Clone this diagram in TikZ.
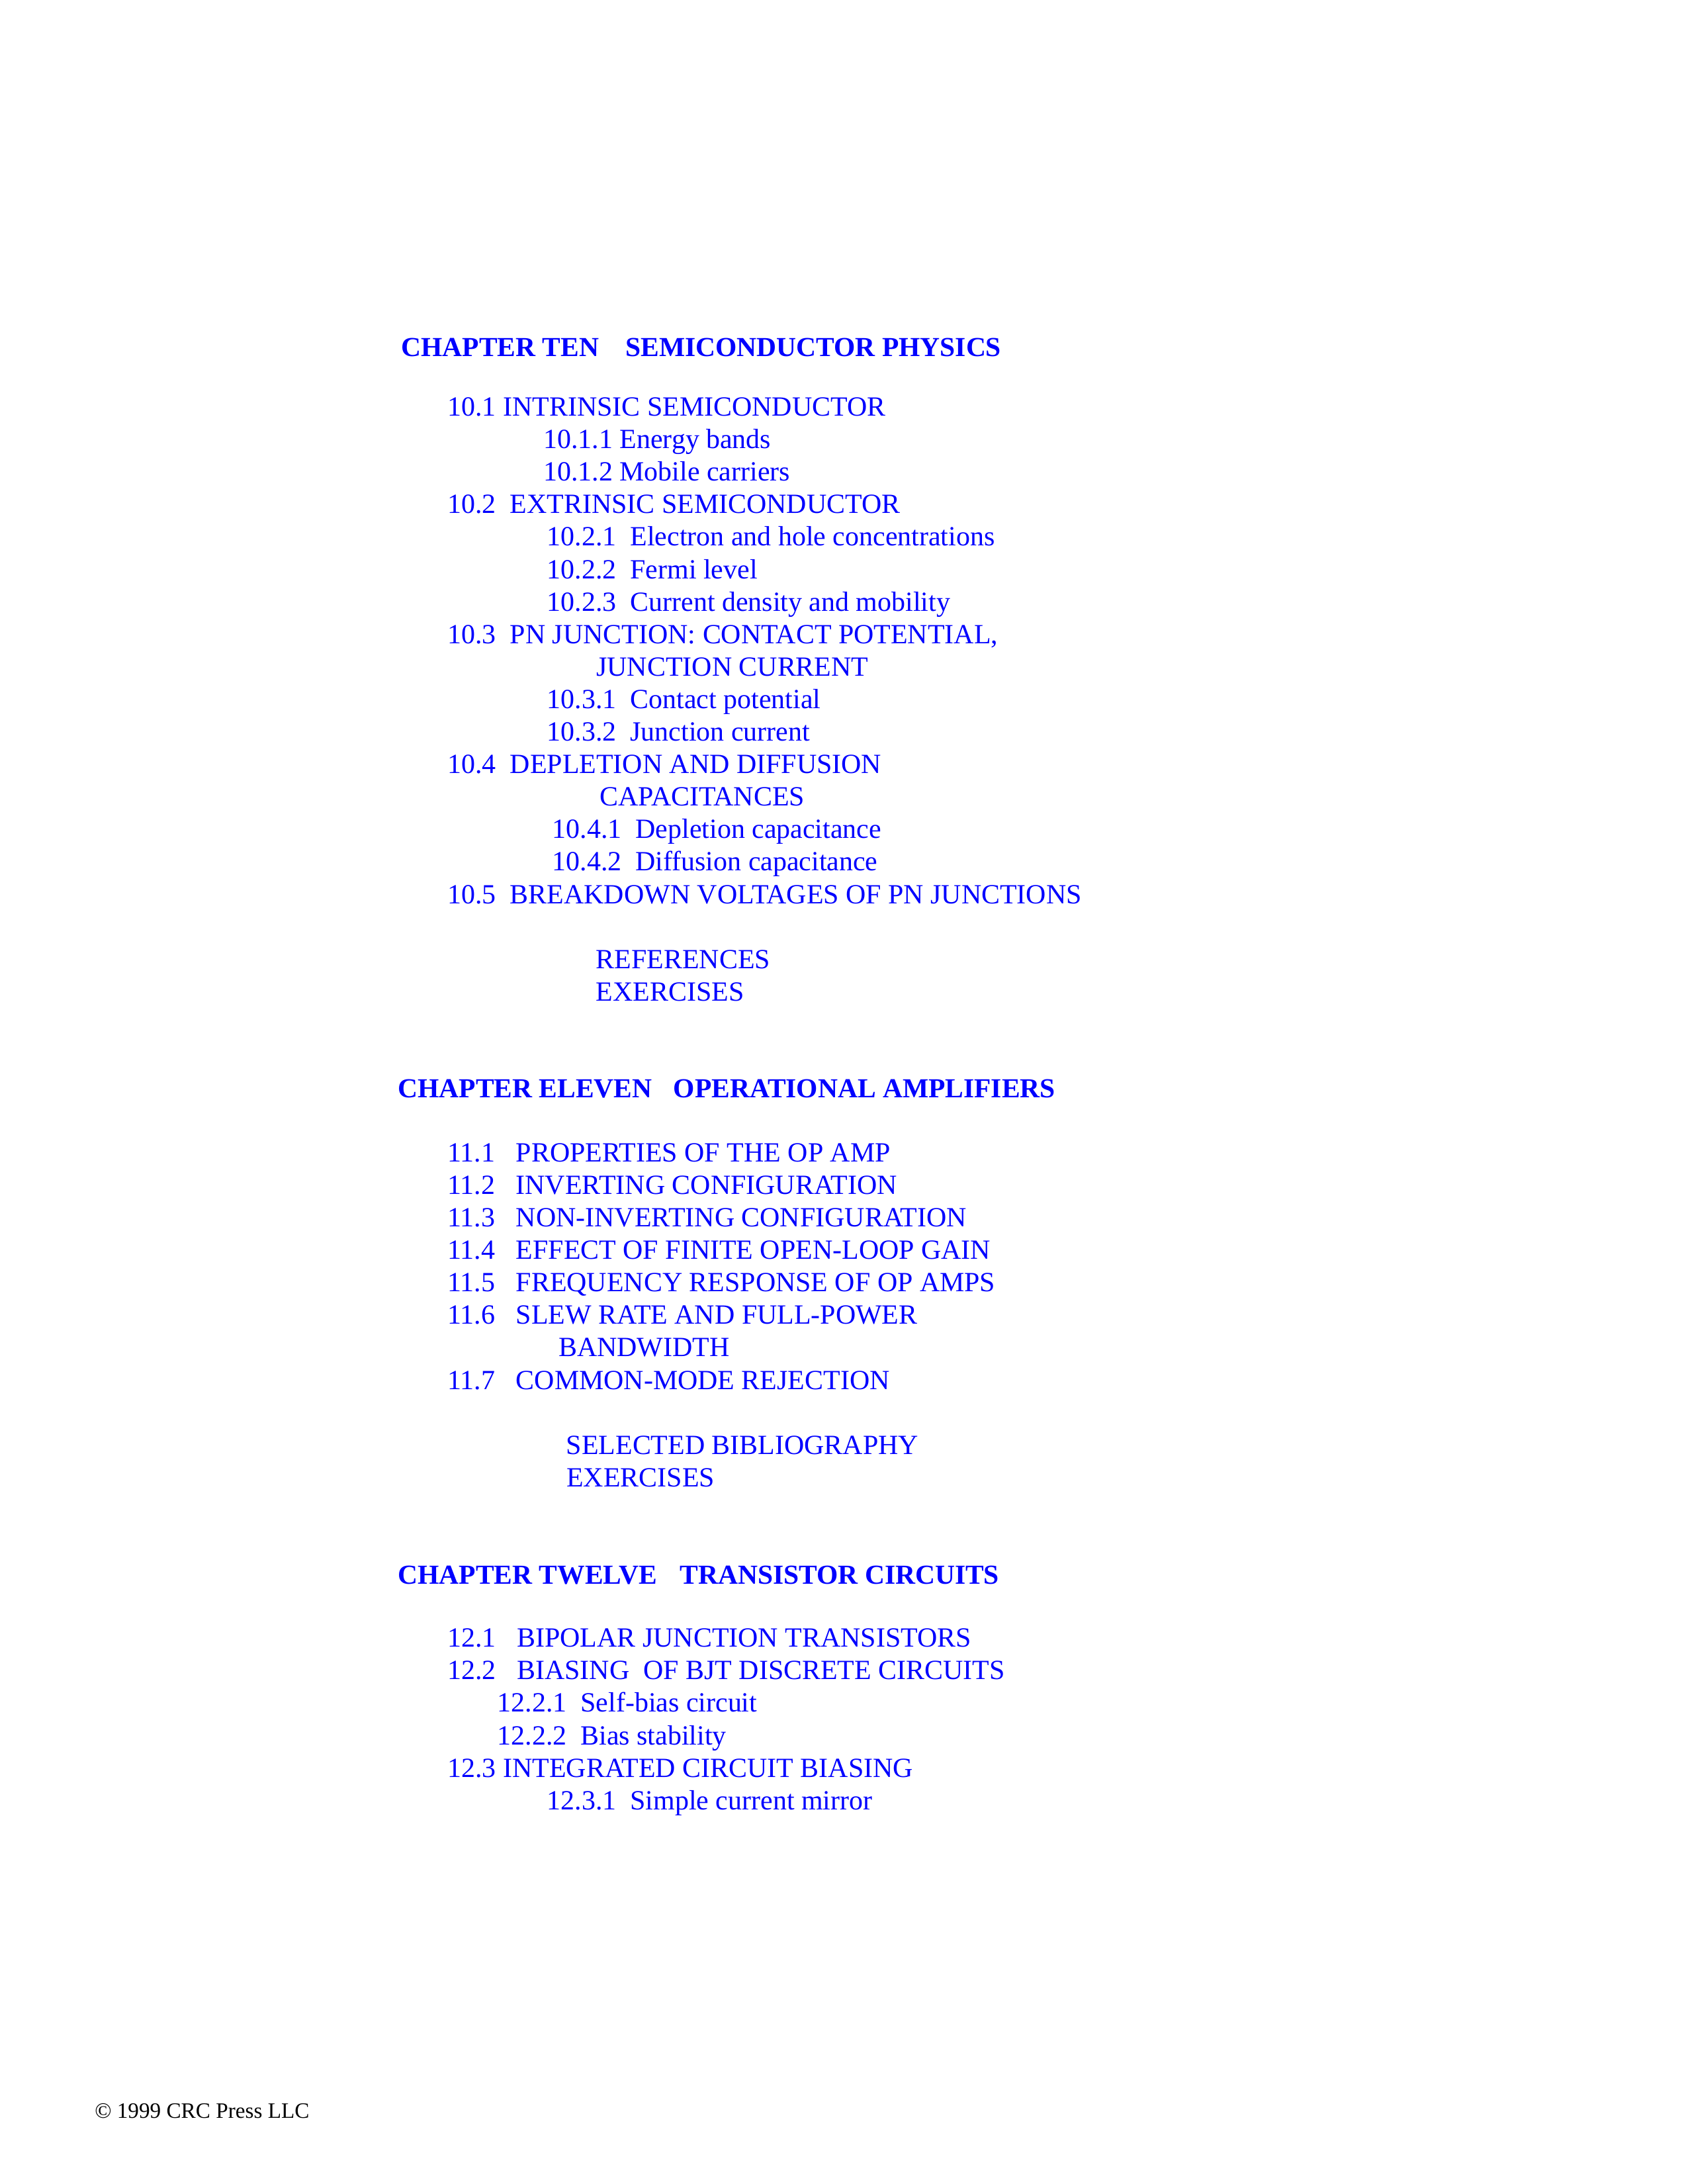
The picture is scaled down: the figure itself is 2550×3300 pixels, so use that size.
\documentclass[tikz,border=0pt]{standalone}
\usepackage{fontspec}
\setmainfont{Liberation Serif}
\begin{document}
\begin{tikzpicture}[x=0.24bp,y=-0.24bp,
  entry/.style={anchor=base west,inner sep=0pt,text=blue,font=\fontsize{10.1}{12}\selectfont},
  chap/.style={entry,font=\fontsize{10}{12}\selectfont\bfseries}]
\def\dy{49.1} % line step
\useasboundingbox (0,0) rectangle (2550,3300);
% chapter ten
\node[chap] (ten) at (605.7,538.3) {CHAPTER TEN};
\node[chap] (ten-t) at (944.5,538.3) {SEMICONDUCTOR PHYSICS};
\foreach \k/\xx/\txt in {0/675.7/{10.1 INTRINSIC SEMICONDUCTOR},
  1/820.5/{10.1.1 Energy bands}, 2/820.5/{10.1.2 Mobile carriers},
  3/675.7/{10.2\ \ EXTRINSIC SEMICONDUCTOR},
  4/826/{10.2.1\ \ Electron and hole concentrations}, 5/826/{10.2.2\ \ Fermi level},
  6/826/{10.2.3\ \ Current density and mobility},
  7/675.7/{10.3\ \ PN JUNCTION: CONTACT POTENTIAL,}, 8/900.5/{JUNCTION CURRENT},
  9/826/{10.3.1\ \ Contact potential}, 10/826/{10.3.2\ \ Junction current},
  11/675.7/{10.4\ \ DEPLETION AND DIFFUSION}, 12/905.5/{CAPACITANCES},
  13/834/{10.4.1\ \ Depletion capacitance}, 14/834/{10.4.2\ \ Diffusion capacitance},
  15/675.7/{10.5\ \ BREAKDOWN VOLTAGES OF PN JUNCTIONS},
  17/900/{REFERENCES}, 18/900/{EXERCISES}}
  {\node[entry] (ten-\k) at (\xx,{628.5+\dy*\k}) {\txt};}
% chapter eleven
\node[chap] (eleven) at (600.7,1658.7) {CHAPTER ELEVEN};
\node[chap] (eleven-t) at (1017,1658.7) {OPERATIONAL AMPLIFIERS};
\foreach \k/\xx/\txt in {0/675.7/{11.1\ \ \ PROPERTIES OF THE OP AMP},
  1/675.7/{11.2\ \ \ INVERTING CONFIGURATION}, 2/675.7/{11.3\ \ \ NON-INVERTING CONFIGURATION},
  3/675.7/{11.4\ \ \ EFFECT OF FINITE OPEN-LOOP GAIN}, 4/675.7/{11.5\ \ \ FREQUENCY RESPONSE OF OP AMPS},
  5/675.7/{11.6\ \ \ SLEW RATE AND FULL-POWER}, 6/843.3/{BANDWIDTH},
  7/675.7/{11.7\ \ \ COMMON-MODE REJECTION},
  9/855/{SELECTED BIBLIOGRAPHY}, 10/855.5/{EXERCISES}}
  {\node[entry] (eleven-\k) at (\xx,{1755.3+\dy*\k}) {\txt};}
% chapter twelve
\node[chap] (twelve) at (600.7,2393.7) {CHAPTER TWELVE};
\node[chap] (twelve-t) at (1026.8,2393.7) {TRANSISTOR CIRCUITS};
\foreach \k/\xx/\txt in {0/675.7/{12.1\ \ \ BIPOLAR JUNCTION TRANSISTORS},
  1/675.7/{12.2\ \ \ BIASING\ \ OF BJT DISCRETE CIRCUITS},
  2/751/{12.2.1\ \ Self-bias circuit}, 3/751/{12.2.2\ \ Bias stability},
  4/675.7/{12.3 INTEGRATED CIRCUIT BIASING}, 5/826/{12.3.1\ \ Simple current mirror}}
  {\node[entry] (twelve-\k) at (\xx,{2488.7+\dy*\k}) {\txt};}
\node[anchor=base west,inner sep=0pt,font=\fontsize{8}{10}\selectfont] (crc) at (142.5,3200) {© 1999 CRC Press LLC};
\end{tikzpicture}
\end{document}
